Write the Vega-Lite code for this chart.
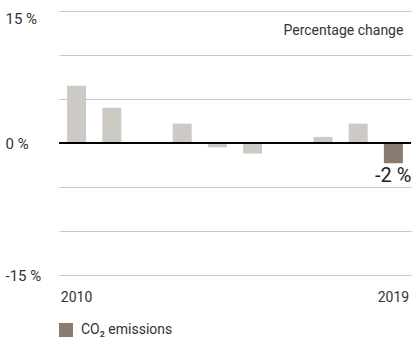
{
  "$schema": "https://vega.github.io/schema/vega-lite/v6.json",
  "width": 352,
  "height": 264,
  "autosize": {"type": "none"},
  "padding": {"left": 59, "top": 11, "right": 1, "bottom": 66},
  "config": {
    "view": {"stroke": null},
    "font": "Roboto",
    "axis": {"labelFont": "Roboto", "labelFontSize": 14, "labelColor": "#333333"},
    "legend": {"labelFont": "Roboto", "labelFontSize": 14, "labelColor": "#333333"}
  },
  "data": {
    "values": [
      {"year": 2010, "value": 6.5, "series": "other"},
      {"year": 2011, "value": 4.0, "series": "other"},
      {"year": 2012, "value": 0, "series": "other"},
      {"year": 2013, "value": 2.2, "series": "other"},
      {"year": 2014, "value": -0.5, "series": "other"},
      {"year": 2015, "value": -1.2, "series": "other"},
      {"year": 2016, "value": 0, "series": "other"},
      {"year": 2017, "value": 0.7, "series": "other"},
      {"year": 2018, "value": 2.2, "series": "other"},
      {"year": 2019, "value": -2.3, "series": "CO₂ emissions", "label": "-2 %"}
    ]
  },
  "encoding": {
    "x": {
      "field": "year",
      "type": "ordinal",
      "scale": {"paddingInner": 0.46, "paddingOuter": 0.23},
      "axis": {
        "title": null,
        "domain": false,
        "ticks": false,
        "labelAngle": 0,
        "labelPadding": 15,
        "labelExpr": "datum.value == 2010 || datum.value == 2019 ? datum.label : ''",
        "encode": {
          "labels": {
            "update": {
              "align": {"signal": "datum.value == 2010 ? 'left' : 'right'"},
              "dx": {"signal": "datum.value == 2010 ? -19 : 17"}
            }
          }
        }
      }
    }
  },
  "layer": [
    {
      "mark": {"type": "bar"},
      "encoding": {
        "y": {
          "field": "value",
          "type": "quantitative",
          "scale": {"domain": [-15, 15], "nice": false, "zero": false},
          "axis": {
            "title": null,
            "values": [-15, -10, -5, 0, 5, 10, 15],
            "grid": true,
            "gridColor": "#c8c8c8",
            "gridWidth": 1,
            "domain": false,
            "ticks": false,
            "labelAlign": "left",
            "labelFontSize": 15,
            "labelBaseline": {"condition": {"test": "datum.value == 15", "value": "top"}, "value": "middle"},
            "labelPadding": 54,
            "labelExpr": "datum.value % 15 == 0 ? datum.value + ' %' : ''"
          }
        },
        "color": {
          "field": "series",
          "type": "nominal",
          "scale": {"domain": ["CO₂ emissions", "other"], "range": ["#8a7b70", "#cdcac5"]},
          "legend": {
            "title": null,
            "values": ["CO₂ emissions"],
            "orient": "none",
            "legendX": 0,
            "legendY": 312,
            "symbolType": "square",
            "symbolSize": 196,
            "symbolStrokeWidth": 0,
            "labelOffset": 8
          }
        }
      }
    },
    {
      "mark": {"type": "rule", "color": "#000000", "strokeWidth": 2},
      "encoding": {
        "x": null,
        "y": {"datum": 0}
      }
    },
    {
      "transform": [{"filter": "datum.label != null"}],
      "mark": {"type": "text", "align": "right", "baseline": "top", "dx": 18, "dy": 3, "fontSize": 20, "color": "#222222"},
      "encoding": {
        "y": {"field": "value", "type": "quantitative"},
        "text": {"field": "label"}
      }
    },
    {
      "data": {"values": [{"note": "Percentage change", "year": 2019, "pos": 12.7}]},
      "mark": {"type": "text", "align": "right", "baseline": "middle", "dx": 10, "fontSize": 14, "color": "#333333"},
      "encoding": {
        "y": {"field": "pos", "type": "quantitative"},
        "text": {"field": "note"}
      }
    }
  ]
}
